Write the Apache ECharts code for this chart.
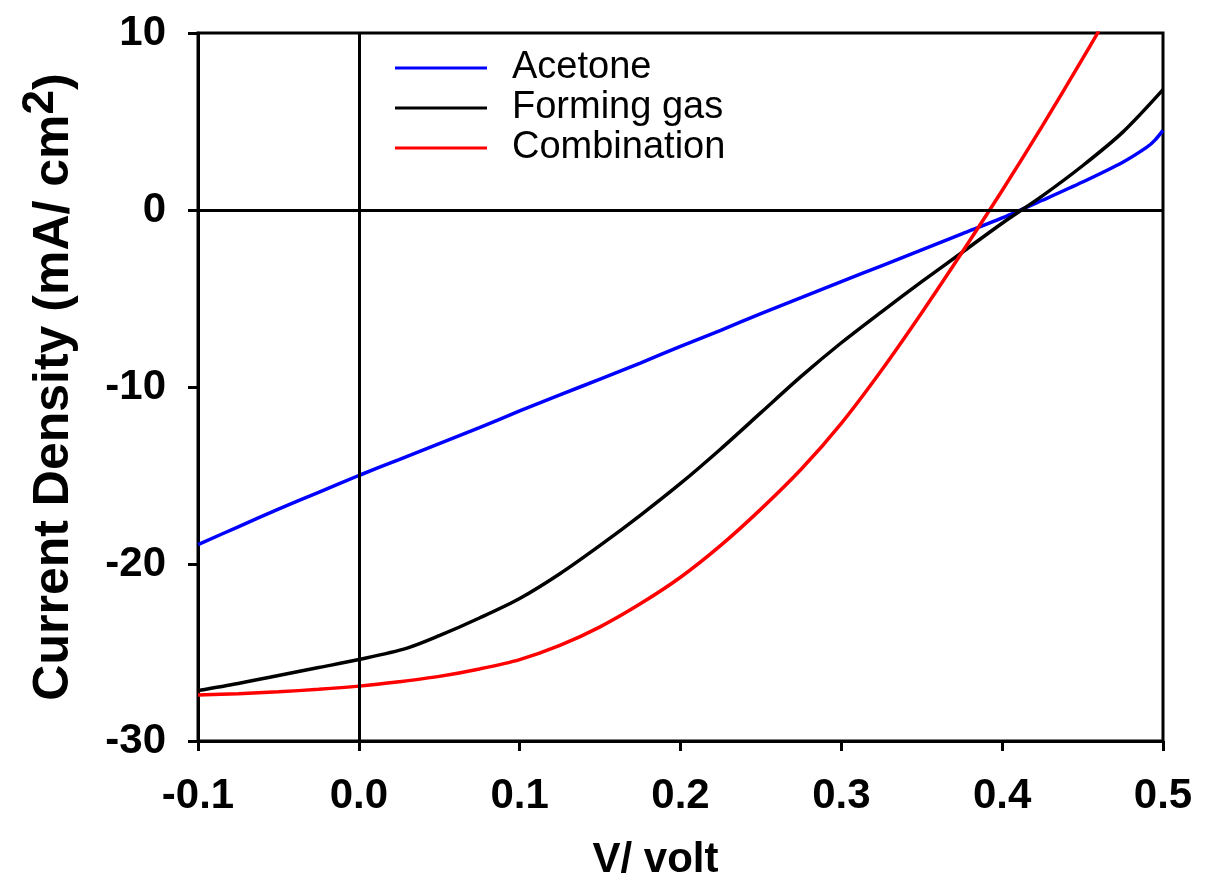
<!DOCTYPE html>
<html>
<head>
<meta charset="utf-8">
<script src="https://cdn.jsdelivr.net/npm/echarts@6/dist/echarts.min.js"></script>
<style>
  html, body { margin: 0; padding: 0; background: #fff; }
  #chart { width: 1211px; height: 881px; }
</style>
</head>
<body>
<div id="chart"></div>
<script>
// ---- data ----
const seriesNames = ['Acetone', 'Forming gas', 'Combination'];
const xTickLabels = ['-0.1', '0.0', '0.1', '0.2', '0.3', '0.4', '0.5'];
const yTickLabels = ['-30', '-20', '-10', '0', '10'];

const acetoneV = [-0.1, -0.075, -0.05, -0.025, 0, 0.025, 0.05, 0.075, 0.1, 0.125, 0.15, 0.175, 0.2, 0.225, 0.25, 0.275, 0.3, 0.325, 0.35, 0.375, 0.4, 0.425, 0.45, 0.475, 0.49, 0.495, 0.5];
const acetoneJ = [-18.9, -17.9, -16.9, -15.95, -15.0, -14.1, -13.2, -12.3, -11.35, -10.45, -9.55, -8.65, -7.7, -6.8, -5.85, -4.95, -4.05, -3.15, -2.25, -1.35, -0.45, 0.55, 1.58, 2.7, 3.55, 3.95, 4.5];

const formingV = [-0.1, -0.075, -0.05, -0.025, 0, 0.03, 0.05, 0.075, 0.1, 0.125, 0.15, 0.175, 0.2, 0.225, 0.25, 0.275, 0.3, 0.325, 0.35, 0.375, 0.4, 0.425, 0.45, 0.475, 0.5];
const formingJ = [-27.15, -26.75, -26.3, -25.85, -25.4, -24.75, -24.05, -23.05, -21.95, -20.55, -18.95, -17.25, -15.45, -13.5, -11.45, -9.4, -7.5, -5.75, -4.05, -2.4, -0.75, 0.8, 2.5, 4.4, 6.8];

const combV = [-0.1, -0.075, -0.05, -0.025, 0, 0.025, 0.05, 0.075, 0.1, 0.125, 0.15, 0.175, 0.2, 0.225, 0.25, 0.275, 0.3, 0.325, 0.35, 0.375, 0.4, 0.425, 0.45, 0.46];
const combJ = [-27.4, -27.33, -27.22, -27.08, -26.9, -26.65, -26.35, -25.93, -25.4, -24.6, -23.55, -22.25, -20.75, -18.95, -16.9, -14.65, -12.05, -9.05, -5.8, -2.4, 1.1, 4.75, 8.55, 10.1];

const seriesColors = ['#0000ff', '#000000', '#ff0000'];

function pairs(xs, ys) { return xs.map((x, i) => [x, ys[i]]); }

const chart = echarts.init(document.getElementById('chart'), null, { renderer: 'canvas' });
const FONT = '"Liberation Sans", Arial, sans-serif';

const option = {
  animation: false,
  backgroundColor: '#ffffff',
  grid: { left: 198, right: 48, top: 33, bottom: 140, containLabel: false, outerBoundsMode: 'none',
    show: true, borderColor: '#000', borderWidth: 3, backgroundColor: 'transparent' },
  legend: {
    data: seriesNames,
    orient: 'vertical',
    left: 390,
    top: 44,
    itemGap: 2,
    itemWidth: 92,
    itemHeight: 3,
    icon: 'rect',
    textStyle: { fontFamily: FONT, fontSize: 38, color: '#000', padding: [0, 0, 0, 20], lineHeight: 38 }
  },
  xAxis: {
    type: 'value', min: -0.1, max: 0.5, interval: 0.1,
    name: 'V/ volt', nameLocation: 'middle', nameGap: 98,
    nameTextStyle: { fontFamily: FONT, fontSize: 42, fontWeight: 'bold', color: '#000', padding: [0, 50, 0, 0] },
    axisLine: { show: true, onZero: false, lineStyle: { color: '#000', width: 3 } },
    axisTick: { show: true, inside: false, length: 10, lineStyle: { color: '#000', width: 3 } },
    axisLabel: { margin: 34, fontFamily: FONT, fontSize: 42, fontWeight: 'bold', color: '#000',
      formatter: v => { const i = Math.round((v + 0.1) / 0.1); return xTickLabels[i] !== undefined ? xTickLabels[i] : ''; } },
    splitLine: { show: false }
  },
  yAxis: {
    type: 'value', min: -30, max: 10, interval: 10,
    name: 'Current Density (mA/ cm{sup|2})', nameLocation: 'middle', nameGap: 109,
    nameTextStyle: { fontFamily: FONT, fontSize: 50, fontWeight: 'bold', color: '#000', lineHeight: 70,
      rich: { sup: { fontFamily: FONT, fontSize: 44, fontWeight: 'bold', color: '#000', verticalAlign: 'top', lineHeight: 44 } } },
    axisLine: { show: true, onZero: false, lineStyle: { color: '#000', width: 3 } },
    axisTick: { show: true, inside: false, length: 10, lineStyle: { color: '#000', width: 3 } },
    axisLabel: { margin: 32, fontFamily: FONT, fontSize: 42, fontWeight: 'bold', color: '#000',
      formatter: v => { const i = Math.round((v + 30) / 10); return yTickLabels[i] !== undefined ? yTickLabels[i] : ''; } },
    splitLine: { show: false }
  },
  series: [
    {
      name: seriesNames[0], type: 'line', data: pairs(acetoneV, acetoneJ), smooth: 0.3, showSymbol: false, clip: true,
      lineStyle: { color: seriesColors[0], width: 3.5 }, itemStyle: { color: seriesColors[0] }, z: 3,
      markLine: {
        silent: true, symbol: 'none', label: { show: false },
        lineStyle: { color: '#000', width: 3, type: 'solid' },
        data: [{ xAxis: 0 }, { yAxis: 0 }]
      }
    },
    {
      name: seriesNames[1], type: 'line', data: pairs(formingV, formingJ), smooth: 0.3, showSymbol: false, clip: true,
      lineStyle: { color: seriesColors[1], width: 3.5 }, itemStyle: { color: seriesColors[1] }, z: 3
    },
    {
      name: seriesNames[2], type: 'line', data: pairs(combV, combJ), smooth: 0.3, showSymbol: false, clip: true,
      lineStyle: { color: seriesColors[2], width: 3.5 }, itemStyle: { color: seriesColors[2] }, z: 3
    }
  ]
};
chart.setOption(option);
</script>
</body>
</html>
